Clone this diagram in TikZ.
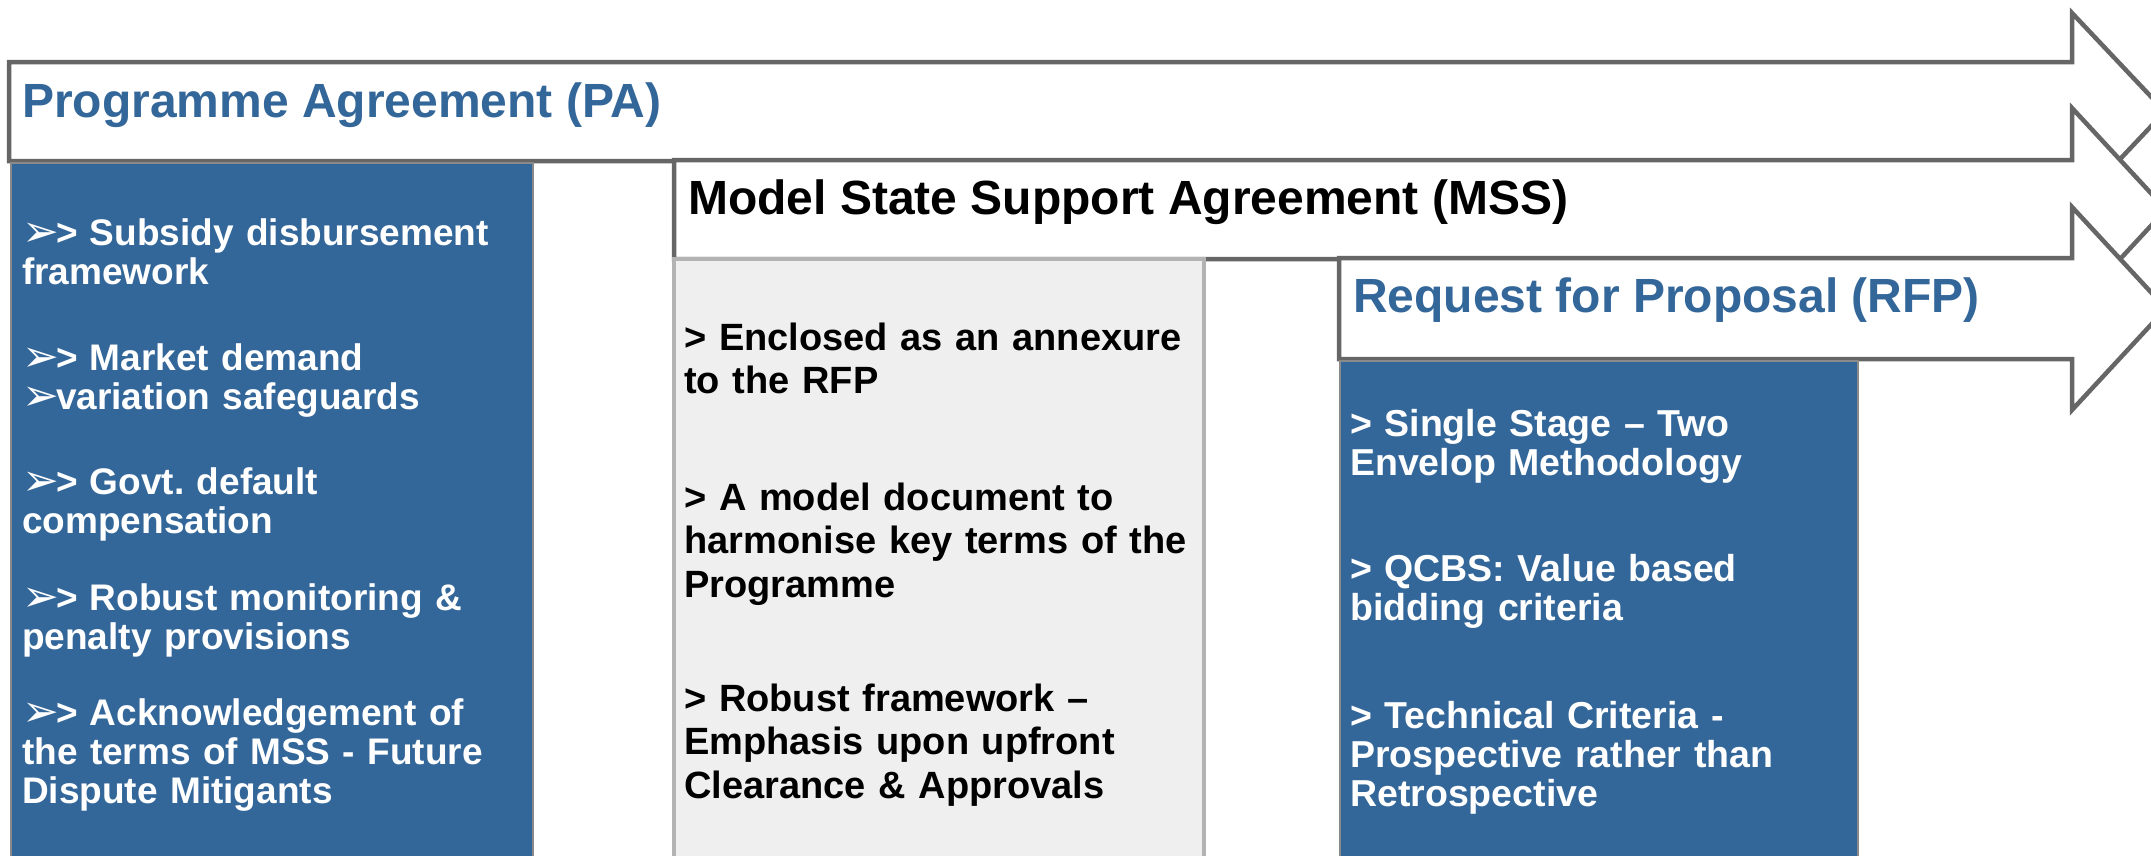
\documentclass[tikz,border=0pt]{standalone}
\usepackage{fontspec}
\setmainfont{Liberation Sans}
\newfontfamily\dingfont{DejaVu Sans}

\definecolor{arrowgray}{HTML}{666666}
\definecolor{panelblue}{HTML}{346799}
\definecolor{titleblue}{HTML}{346799}
\definecolor{panelgray}{HTML}{EFEFEF}
\definecolor{bordergray}{HTML}{B3B3B3}
\definecolor{edgegray}{HTML}{8A8A8A}

% arrowhead bullet used in the PA list
\newcommand\pabullet{\smash{\dingfont\fontsize{44}{44}\selectfont\raisebox{-1pt}{➢}}\kern-3pt}

\tikzset{
  agreement/.style={fill=white, draw=arrowgray, line width=4.5pt, line join=miter},
  bluepanel/.style={fill=panelblue, draw=edgegray, line width=1.5pt},
  graypanel/.style={fill=panelgray, draw=bordergray, line width=4pt},
  heading/.style={anchor=base west, inner sep=0pt,
    font=\bfseries\fontsize{48}{50}\selectfont},
  bulletpara/.style={anchor=base west, inner sep=0pt, text width=600pt, align=left},
  palist/.style={bulletpara, text=white, font=\bfseries\fontsize{37}{39}\selectfont},
  msslist/.style={bulletpara, text=black, font=\bfseries\fontsize{38}{43.5}\selectfont},
  rfplist/.style={bulletpara, text=white, font=\bfseries\fontsize{37.5}{39}\selectfont},
}

\begin{document}
\frenchspacing
\begin{tikzpicture}[x=1pt, y=-1pt]
\useasboundingbox (0,0) rectangle (2151,855);
\clip (0,0) rectangle (2151,855);

% stacked agreement arrows, each drawn over the previous one
\draw[agreement] (9,62) -- (2072,62) -- (2072,13) -- (2165,111.5)
  -- (2072,210) -- (2072,161) -- (9,161) -- cycle;
\draw[agreement] (674,160) -- (2072,160) -- (2072,108) -- (2166,209.5)
  -- (2072,311) -- (2072,259) -- (674,259) -- cycle;
\draw[agreement] (1339,258) -- (2072,258) -- (2072,207) -- (2166,308.5)
  -- (2072,410) -- (2072,359) -- (1339,359) -- cycle;

% content panels below each arrow
\draw[bluepanel] (11,163) rectangle (533,870);
\draw[graypanel] (674,259) rectangle (1204,870);
\draw[bluepanel] (1340,361) rectangle (1858,870);

% arrow titles
\node[heading, text=titleblue] (patitle) at (22,117) {Programme Agreement (PA)};
\node[heading, text=black] (msstitle) at (688,214) {Model State Support Agreement (MSS)};
\node[heading, text=titleblue] (rfptitle) at (1353,312) {Request for Proposal (RFP)};

% Programme Agreement points
\node[palist] (pa1) at (22,245) {\pabullet> Subsidy disbursement\\framework};
\node[palist] (pa2) at (22,370) {\pabullet> Market demand\\\pabullet variation safeguards};
\node[palist] (pa3) at (22,494) {\pabullet> Govt. default\\compensation};
\node[palist] (pa4) at (22,610) {\pabullet> Robust monitoring \&\\penalty provisions};
\node[palist] (pa5) at (22,725) {\pabullet> Acknowledgement of\\the terms of MSS - Future\\Dispute Mitigants};

% Model State Support Agreement points
\node[msslist] (mss1) at (684,350) {> Enclosed as an annexure\\to the RFP};
\node[msslist] (mss2) at (684,510) {> A model document to\\harmonise key terms of the\\Programme};
\node[msslist] (mss3) at (684,711) {> Robust framework –\\Emphasis upon upfront\\Clearance \& Approvals};

% Request for Proposal points
\node[rfplist] (rfp1) at (1350,436) {> Single Stage – Two\\Envelop Methodology};
\node[rfplist] (rfp2) at (1350,581) {> QCBS: Value based\\bidding criteria};
\node[rfplist] (rfp3) at (1350,728) {> Technical Criteria -\\Prospective rather than\\Retrospective};
\end{tikzpicture}
\end{document}
